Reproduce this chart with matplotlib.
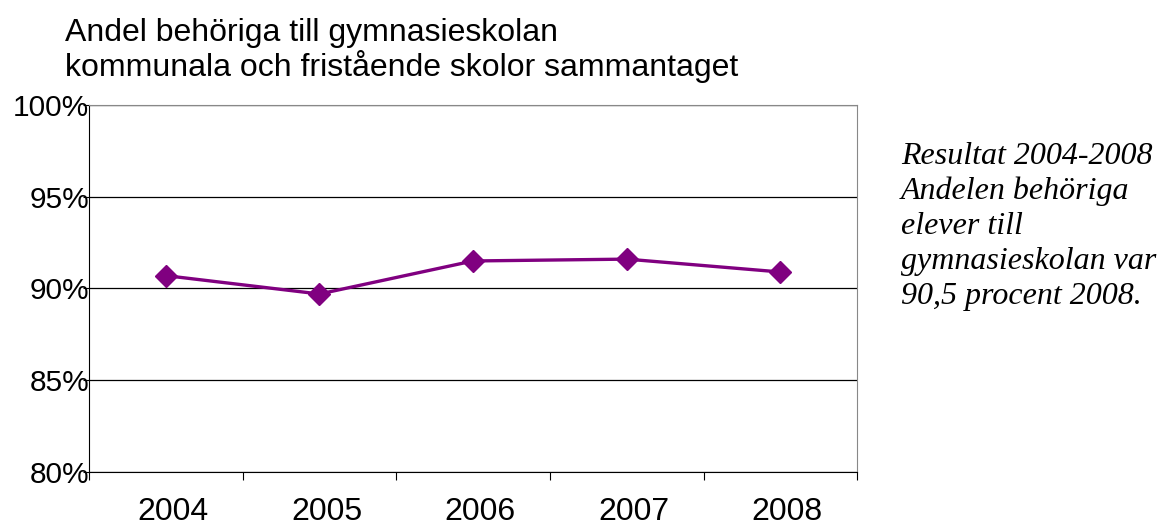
import matplotlib
matplotlib.use("Agg")
import matplotlib.pyplot as plt
import matplotlib.transforms as mtransforms
import numpy as np

# data
years = ["2004", "2005", "2006", "2007", "2008"]
andel = [90.7, 89.7, 91.5, 91.6, 90.9]  # percent
yticks = [80, 85, 90, 95, 100]

plt.rcParams['font.family'] = ['Liberation Sans', 'DejaVu Sans']

fig = plt.figure(figsize=(11.58, 5.25), dpi=100)
ax = fig.add_axes([0.0769, 0.101, 0.6633, 0.699])

x = np.arange(len(years))
ax.plot(x, andel, color='#800080', linewidth=2.4, marker='D', markersize=11, zorder=3)

ax.set_xlim(-0.5, len(years) - 0.5)
ax.set_ylim(80, 100)
ax.set_yticks(yticks)
ax.set_yticklabels([f"{v}%" for v in yticks], fontsize=21.5)
ax.yaxis.grid(True, color='black', linewidth=0.9)
ax.set_axisbelow(True)

# category labels centred, ticks between categories
ax.set_xticks(np.arange(-0.5, len(years), 1.0))
ax.set_xticklabels([])
ax.set_xticks(x, minor=True)
ax.set_xticklabels(years, minor=True, fontsize=23)
ax.tick_params(axis='x', which='minor', length=0, pad=18)
ax.tick_params(axis='x', which='major', length=6, direction='out', color='black')
ax.tick_params(axis='y', length=4, direction='out', pad=-4)

# labels in the original sit a few px right of the category centre
shift = mtransforms.ScaledTranslation(7 / 100, 0, fig.dpi_scale_trans)
for lab in ax.get_xticklabels(minor=True):
    lab.set_transform(lab.get_transform() + shift)

for s in ['top', 'right']:
    ax.spines[s].set_color('#888888')
for s in ['left', 'bottom']:
    ax.spines[s].set_color('black')

fig.text(0.056, 0.965, "Andel behöriga till gymnasieskolan\nkommunala och fristående skolor sammantaget",
         fontsize=23, va='top', ha='left', linespacing=1.05)

fig.text(0.778, 0.73,
         "Resultat 2004-2008\nAndelen behöriga\nelever till\ngymnasieskolan var\n90,5 procent 2008.",
         fontsize=23, family=['Liberation Serif', 'DejaVu Serif'], style='italic',
         va='top', ha='left', linespacing=1.27)

fig.savefig("out.png", dpi=100)
